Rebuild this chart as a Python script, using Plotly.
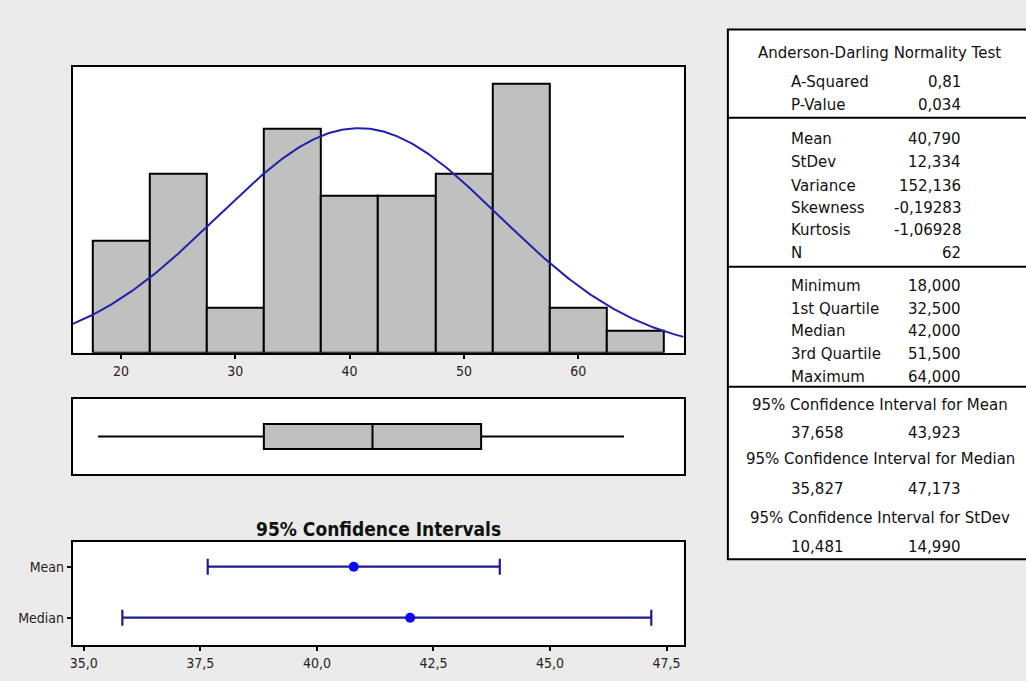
import numpy as np
import plotly.graph_objects as go

W, H = 1026, 681

# ---------------- data ----------------
bin_start = 17.5
bin_width = 5.0
hist_counts = [5, 8, 2, 10, 7, 7, 8, 12, 2, 1]

n_obs = 62
mean_val = 40.790
stdev_val = 12.334

box_min = 18.0
box_q1 = 32.5
box_median = 42.0
box_q3 = 51.5
box_max = 64.0

ci_labels = ["Mean", "Median"]
ci_center = [40.790, 42.000]
ci_low = [37.658, 35.827]
ci_high = [43.923, 47.173]

hist_ticks = [20, 30, 40, 50, 60]
ci_ticks = [35.0, 37.5, 40.0, 42.5, 45.0, 47.5]
ci_ticktext = ["35,0", "37,5", "40,0", "42,5", "45,0", "47,5"]

table_sections = [
    [("A-Squared", "0,81"), ("P-Value", "0,034")],
    [("Mean", "40,790"), ("StDev", "12,334"), ("Variance", "152,136"),
     ("Skewness", "-0,19283"), ("Kurtosis", "-1,06928"), ("N", "62")],
    [("Minimum", "18,000"), ("1st Quartile", "32,500"), ("Median", "42,000"),
     ("3rd Quartile", "51,500"), ("Maximum", "64,000")],
]
ci_table = [
    ("95% Confidence Interval for Mean", "37,658", "43,923"),
    ("95% Confidence Interval for Median", "35,827", "47,173"),
    ("95% Confidence Interval for StDev", "10,481", "14,990"),
]

# ---------------- helpers ----------------
def px(x):
    return x / W

def py(y):
    return 1 - y / H

HIST_X_RANGE = [15.79, 69.2]
CI_X_RANGE = [34.764, 47.864]

BG = "#ebebeb"
GREY = "#c0c0c0"
CURVE = "#2222aa"
CI_LINE = "#1c1c8c"
CI_DOT = "#0a0af0"
NARROW = "Liberation Sans Narrow, DejaVu Sans Condensed, Liberation Sans, sans-serif"
TICKFONT = dict(family=NARROW, size=14, color="#2a2222")
TABFONT = dict(family="DejaVu Sans, Verdana, sans-serif", size=15, color="#111111")

fig = go.Figure()

# histogram bars
centers = [bin_start + bin_width * (i + 0.5) for i in range(len(hist_counts))]
fig.add_trace(go.Bar(
    x=centers, y=hist_counts, width=bin_width,
    marker=dict(color=GREY, line=dict(color="black", width=2)),
    xaxis="x", yaxis="y", hoverinfo="skip", showlegend=False,
))

# fitted normal curve
xs = np.linspace(HIST_X_RANGE[0], HIST_X_RANGE[1], 400)
ys = n_obs * bin_width * np.exp(-0.5 * ((xs - mean_val) / stdev_val) ** 2) / (stdev_val * np.sqrt(2 * np.pi))
fig.add_trace(go.Scatter(
    x=xs, y=ys, mode="lines", line=dict(color=CURVE, width=2),
    xaxis="x", yaxis="y", hoverinfo="skip", showlegend=False,
))

# box plot
fig.add_trace(go.Box(
    y=[0], q1=[box_q1], median=[box_median], q3=[box_q3],
    lowerfence=[box_min], upperfence=[box_max],
    orientation="h", width=1.0, whiskerwidth=0,
    fillcolor=GREY, line=dict(color="black", width=2),
    boxpoints=False, xaxis="x2", yaxis="y2", hoverinfo="skip", showlegend=False,
))

# confidence intervals
ci_y = [1, 0]
fig.add_trace(go.Scatter(
    x=ci_center, y=ci_y, mode="markers",
    marker=dict(color=CI_DOT, size=10, symbol="circle"),
    error_x=dict(type="data", symmetric=False,
                 array=[h - c for h, c in zip(ci_high, ci_center)],
                 arrayminus=[c - l for c, l in zip(ci_center, ci_low)],
                 color=CI_LINE, thickness=2.2, width=8),
    xaxis="x3", yaxis="y3", hoverinfo="skip", showlegend=False,
))

xdom = [px(70), px(682.5)]
frame = dict(showline=True, mirror=True, linecolor="black", linewidth=2,
             showgrid=False, zeroline=False)

fig.update_layout(
    width=W, height=H, margin=dict(l=0, r=0, t=0, b=0),
    paper_bgcolor=BG, plot_bgcolor="white", bargap=0,
    xaxis=dict(domain=xdom, range=HIST_X_RANGE, anchor="y",
               tickvals=hist_ticks, ticks="outside", ticklen=4, tickwidth=2,
               tickcolor="black", tickfont=TICKFONT, **frame),
    yaxis=dict(domain=[py(352.7), py(66.7)], range=[0, 12.77], anchor="x",
               showticklabels=False, ticks="", **frame),
    xaxis2=dict(domain=xdom, range=HIST_X_RANGE, anchor="y2",
                showticklabels=False, ticks="", **frame),
    yaxis2=dict(domain=[py(474), py(399)], range=[-1.5, 1.5], anchor="x2",
                showticklabels=False, ticks="", **frame),
    xaxis3=dict(domain=xdom, range=CI_X_RANGE, anchor="y3",
                tickvals=ci_ticks, ticktext=ci_ticktext, ticks="outside",
                ticklen=4, tickwidth=2, tickcolor="black", tickfont=TICKFONT, **frame),
    yaxis3=dict(domain=[py(645), py(541.7)], range=[-0.535, 1.49], anchor="x3",
                tickvals=ci_y, ticktext=ci_labels, ticks="outside", ticklen=4,
                tickwidth=2, tickcolor="black", tickfont=TICKFONT, **frame),
)

annotations = []
shapes = []

# CI panel title
annotations.append(dict(
    x=(xdom[0] + xdom[1]) / 2, y=py(528.5), xref="paper", yref="paper",
    text="<b>95% Confidence Intervals</b>", showarrow=False,
    xanchor="center", yanchor="middle",
    font=dict(family=NARROW, size=19, color="#111111"),
))

# ---------------- table ----------------
tab_left, tab_right = 727, 1040
tab_top, tab_bottom = 29.5, 559.3
shapes.append(dict(type="rect", xref="paper", yref="paper",
                   x0=px(tab_left), x1=px(tab_right), y0=py(tab_bottom), y1=py(tab_top),
                   fillcolor="white", line=dict(color="black", width=2), layer="below"))
for yline in [117.8, 266.7, 386.7]:
    shapes.append(dict(type="line", xref="paper", yref="paper",
                       x0=px(tab_left), x1=px(tab_right), y0=py(yline), y1=py(yline),
                       line=dict(color="black", width=2)))

label_x = 788
value_x = 963
center_x = 880

annotations.append(dict(x=px(879), y=py(53.3), xref="paper", yref="paper",
                        text="Anderson-Darling Normality Test", showarrow=False,
                        xanchor="center", yanchor="middle", font=TABFONT))

row_y = [[81.7, 105.0],
         [139.3, 162.0, 185.7, 207.7, 230.3, 252.8],
         [286.0, 308.7, 331.4, 354.1, 376.8]]
for sec, ys_ in zip(table_sections, row_y):
    for (lab, val), yy in zip(sec, ys_):
        annotations.append(dict(x=px(label_x), y=py(yy), xref="paper", yref="paper",
                                text=lab, showarrow=False, xanchor="left",
                                yanchor="middle", font=TABFONT))
        annotations.append(dict(x=px(value_x), y=py(yy), xref="paper", yref="paper",
                                text=val, showarrow=False, xanchor="right",
                                yanchor="middle", font=TABFONT))

ci_title_y = [405.0, 459.3, 517.7]
ci_val_y = [433.3, 489.3, 546.7]
for (title, lo, hi), ty, vy in zip(ci_table, ci_title_y, ci_val_y):
    annotations.append(dict(x=px(center_x), y=py(ty), xref="paper", yref="paper",
                            text=title, showarrow=False, xanchor="center",
                            yanchor="middle", font=TABFONT))
    annotations.append(dict(x=px(label_x), y=py(vy), xref="paper", yref="paper",
                            text=lo, showarrow=False, xanchor="left",
                            yanchor="middle", font=TABFONT))
    annotations.append(dict(x=px(value_x), y=py(vy), xref="paper", yref="paper",
                            text=hi, showarrow=False, xanchor="right",
                            yanchor="middle", font=TABFONT))

fig.update_layout(annotations=annotations, shapes=shapes)

fig.write_html("out.html")
